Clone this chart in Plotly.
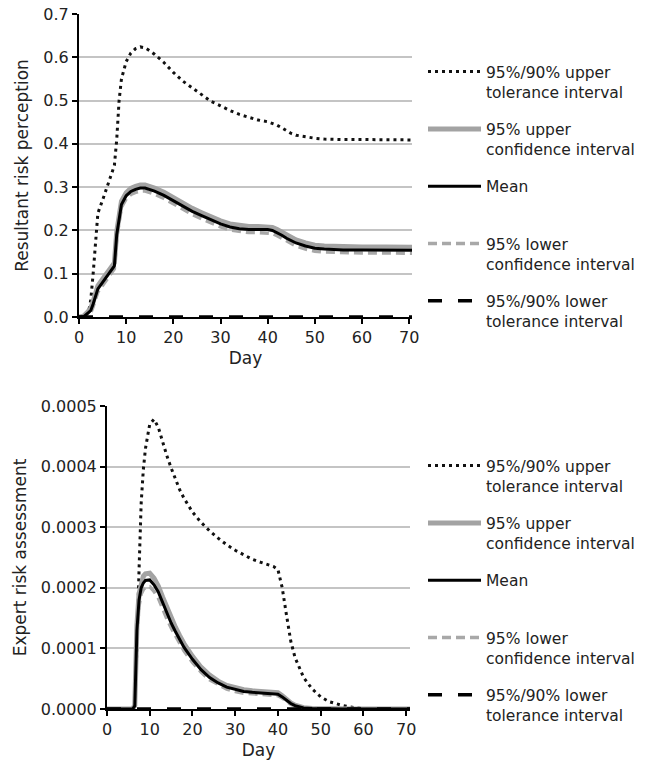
import plotly.graph_objects as go

# ---------------- Top chart: Resultant risk perception ----------------
days_top = [0, 1, 2, 2.5, 3, 3.5, 4, 5, 6, 7, 7.5, 8, 8.5, 9, 10, 11, 12, 13, 14, 15, 16,
            18, 20, 22, 24, 26, 28, 30, 32, 34, 36, 38, 40, 41, 42, 43, 44, 45, 46, 48,
            50, 52, 54, 56, 60, 65, 70, 71]
top_upper_tol = [0, 0.002, 0.01, 0.04, 0.10, 0.18, 0.24, 0.27, 0.30, 0.33, 0.35, 0.41, 0.50,
                 0.55, 0.59, 0.61, 0.62, 0.624, 0.622, 0.615, 0.607, 0.588, 0.565, 0.545,
                 0.530, 0.515, 0.498, 0.488, 0.477, 0.468, 0.462, 0.455, 0.451, 0.447,
                 0.443, 0.437, 0.430, 0.424, 0.420, 0.416, 0.413, 0.411, 0.410, 0.410,
                 0.410, 0.410, 0.409, 0.409]
top_upper_ci = [0, 0.002, 0.013, 0.02, 0.036, 0.057, 0.072, 0.087, 0.102, 0.115, 0.125, 0.197,
                0.237, 0.267, 0.287, 0.297, 0.302, 0.305, 0.305, 0.302, 0.298, 0.288, 0.275,
                0.262, 0.251, 0.241, 0.231, 0.222, 0.215, 0.211, 0.209, 0.209, 0.209, 0.207,
                0.202, 0.196, 0.189, 0.183, 0.178, 0.171, 0.166, 0.164, 0.163, 0.162, 0.162,
                0.162, 0.161, 0.161]
top_mean = [0, 0.001, 0.010, 0.015, 0.030, 0.050, 0.065, 0.080, 0.095, 0.108, 0.118, 0.190,
            0.230, 0.260, 0.280, 0.290, 0.295, 0.298, 0.298, 0.295, 0.291, 0.281, 0.268,
            0.255, 0.244, 0.234, 0.224, 0.215, 0.208, 0.204, 0.202, 0.202, 0.202, 0.200,
            0.195, 0.189, 0.182, 0.176, 0.171, 0.164, 0.159, 0.157, 0.156, 0.155, 0.155,
            0.155, 0.154, 0.154]
top_lower_ci = [0, 0.0, 0.007, 0.010, 0.024, 0.043, 0.058, 0.073, 0.088, 0.101, 0.111, 0.183,
                0.223, 0.253, 0.273, 0.283, 0.288, 0.291, 0.291, 0.288, 0.284, 0.274, 0.261,
                0.248, 0.237, 0.227, 0.217, 0.208, 0.201, 0.197, 0.195, 0.195, 0.195, 0.193,
                0.188, 0.182, 0.175, 0.169, 0.164, 0.157, 0.152, 0.150, 0.149, 0.148, 0.148,
                0.148, 0.147, 0.147]
top_lower_tol = [0] * len(days_top)

# ---------------- Bottom chart: Expert risk assessment ----------------
days_bot = [0, 5, 6, 6.5, 7, 7.5, 8, 8.5, 9, 10, 11, 12, 13, 14, 15, 16, 17, 18, 20, 22, 24,
            26, 28, 30, 32, 34, 36, 38, 39, 40, 41, 42, 43, 44, 45, 46, 48, 50, 52, 55, 58,
            60, 65, 70, 71]
bot_upper_tol = [0, 0, 0, 0.05e-4, 1.0e-4, 2.3e-4, 3.4e-4, 3.95e-4, 4.3e-4, 4.7e-4, 4.78e-4,
                 4.65e-4, 4.4e-4, 4.18e-4, 3.98e-4, 3.8e-4, 3.62e-4, 3.48e-4, 3.25e-4,
                 3.08e-4, 2.94e-4, 2.82e-4, 2.71e-4, 2.62e-4, 2.54e-4, 2.47e-4, 2.42e-4,
                 2.37e-4, 2.35e-4, 2.3e-4, 2.0e-4, 1.55e-4, 1.12e-4, 0.85e-4, 0.68e-4,
                 0.52e-4, 0.33e-4, 0.2e-4, 0.12e-4, 0.06e-4, 0.02e-4, 0.01e-4, 0, 0, 0]
bot_upper_ci = [0, 0, 0, 0.06e-4, 1.38e-4, 1.9e-4, 2.1e-4, 2.19e-4, 2.23e-4, 2.24e-4,
                2.16e-4, 2.03e-4, 1.85e-4, 1.67e-4, 1.5e-4, 1.35e-4, 1.21e-4, 1.08e-4,
                0.87e-4, 0.69e-4, 0.56e-4, 0.46e-4, 0.39e-4, 0.35e-4, 0.32e-4, 0.3e-4,
                0.29e-4, 0.285e-4, 0.28e-4, 0.27e-4, 0.22e-4, 0.155e-4, 0.1e-4, 0.062e-4,
                0.035e-4, 0.021e-4, 0.009e-4, 0.004e-4, 0.001e-4, 0, 0, 0, 0, 0, 0]
bot_mean = [0, 0, 0, 0.05e-4, 1.3e-4, 1.8e-4, 2.0e-4, 2.08e-4, 2.12e-4, 2.13e-4, 2.05e-4,
            1.93e-4, 1.75e-4, 1.58e-4, 1.42e-4, 1.28e-4, 1.14e-4, 1.02e-4, 0.82e-4,
            0.65e-4, 0.52e-4, 0.43e-4, 0.36e-4, 0.32e-4, 0.29e-4, 0.275e-4, 0.265e-4,
            0.26e-4, 0.255e-4, 0.245e-4, 0.2e-4, 0.14e-4, 0.09e-4, 0.055e-4, 0.03e-4,
            0.018e-4, 0.008e-4, 0.003e-4, 0.001e-4, 0, 0, 0, 0, 0, 0]
bot_lower_ci = [0, 0, 0, 0.04e-4, 1.22e-4, 1.7e-4, 1.9e-4, 1.97e-4, 2.01e-4, 2.02e-4,
                1.94e-4, 1.83e-4, 1.65e-4, 1.49e-4, 1.34e-4, 1.21e-4, 1.07e-4, 0.96e-4,
                0.77e-4, 0.61e-4, 0.48e-4, 0.4e-4, 0.33e-4, 0.29e-4, 0.26e-4, 0.25e-4,
                0.24e-4, 0.235e-4, 0.23e-4, 0.22e-4, 0.18e-4, 0.125e-4, 0.08e-4, 0.048e-4,
                0.025e-4, 0.015e-4, 0.007e-4, 0.002e-4, 0.001e-4, 0, 0, 0, 0, 0, 0]
bot_lower_tol = [0] * len(days_bot)

series_names = ["95%/90% upper<br>tolerance interval",
                "95% upper<br>confidence interval",
                "Mean<br>\u00a0",
                "95% lower<br>confidence interval",
                "95%/90% lower<br>tolerance interval"]

styles = [
    dict(color="#111111", width=3, dash="3px,4px"),
    dict(color="#a3a3a3", width=5, dash="solid"),
    dict(color="#000000", width=3, dash="solid"),
    dict(color="#a8a8a8", width=3.5, dash="9px,5px"),
    dict(color="#000000", width=3.5, dash="14px,16px"),
]

FONT = "DejaVu Sans"
fig = go.Figure()

def add_group(days, series, xa, ya, legend):
    # draw order: tolerance, CI, then mean on top; legend order via legendrank
    order = [0, 1, 3, 4, 2]
    for i in order:
        fig.add_trace(go.Scatter(
            x=days, y=series[i], mode="lines", name=series_names[i],
            line=styles[i], xaxis=xa, yaxis=ya, legend=legend,
            legendrank=i + 1, legendgroup=legend + str(i), hoverinfo="skip"))

add_group(days_top, [top_upper_tol, top_upper_ci, top_mean, top_lower_ci, top_lower_tol],
          "x", "y", "legend")
add_group(days_bot, [bot_upper_tol, bot_upper_ci, bot_mean, bot_lower_ci, bot_lower_tol],
          "x2", "y2", "legend2")

W, H = 654, 763
def px_x(p):
    return p / W
def px_y(p):
    return 1 - p / H

axis_common = dict(showline=True, linecolor="black", linewidth=2, ticks="outside",
                   ticklen=5, tickwidth=1.5, tickcolor="black", automargin=False,
                   tickfont=dict(family=FONT, size=16, color="#222"), zeroline=False)

legend_common = dict(xanchor="left", yanchor="top", valign="top", bgcolor="rgba(0,0,0,0)",
                     font=dict(family=FONT, size=15.5, color="#222"), tracegroupgap=14,
                     itemwidth=53, traceorder="grouped")

fig.update_layout(
    width=W, height=H, autosize=False,
    margin=dict(l=0, r=0, t=0, b=0, autoexpand=False),
    paper_bgcolor="white", plot_bgcolor="white",
    showlegend=True,
    xaxis=dict(domain=[px_x(79), px_x(412)], range=[0, 70.6], tickvals=[0, 10, 20, 30, 40, 50, 60, 70],
               anchor="y", showgrid=False,
               title=dict(text="Day", font=dict(family=FONT, size=17, color="#222"), standoff=6),
               **axis_common),
    yaxis=dict(domain=[px_y(317), px_y(14)], range=[0, 0.7], dtick=0.1, tickformat=".1f",
               anchor="x", showgrid=True, gridcolor="#c4c4c4", gridwidth=1.5,
               title=dict(text="Resultant risk perception", font=dict(family=FONT, size=17, color="#222"), standoff=10),
               **axis_common),
    xaxis2=dict(domain=[px_x(107), px_x(410)], range=[0, 70.9], tickvals=[0, 10, 20, 30, 40, 50, 60, 70],
                anchor="y2", showgrid=False,
                title=dict(text="Day", font=dict(family=FONT, size=17, color="#222"), standoff=6),
                **axis_common),
    yaxis2=dict(domain=[px_y(709), px_y(406)], range=[0, 0.0005], dtick=0.0001, tickformat=".4f",
                anchor="x2", showgrid=True, gridcolor="#c4c4c4", gridwidth=1.5,
                title=dict(text="Expert risk assessment", font=dict(family=FONT, size=17, color="#222"), standoff=10),
                **axis_common),
    legend=dict(x=px_x(423), y=px_y(55), **legend_common),
    legend2=dict(x=px_x(423), y=px_y(449), **legend_common),
)

fig.write_html("out.html")
